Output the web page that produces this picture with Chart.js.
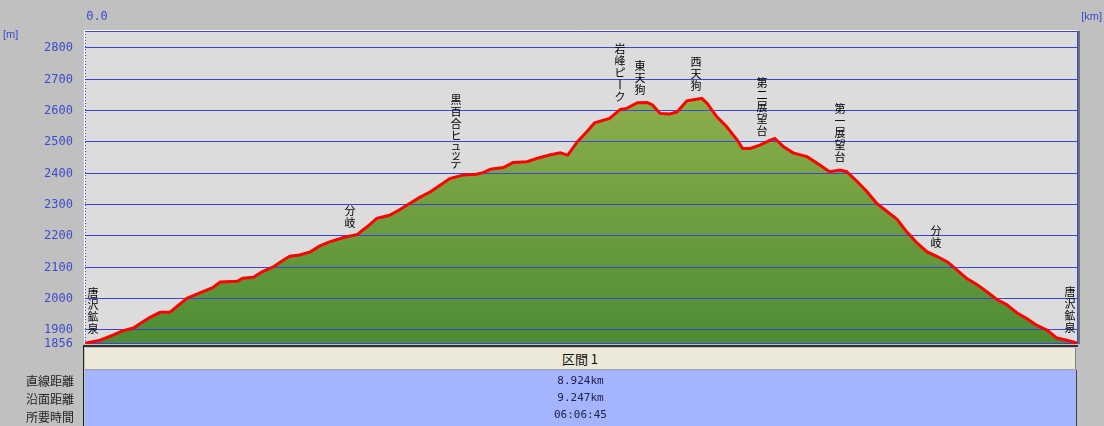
<!DOCTYPE html>
<html>
<head>
<meta charset="utf-8">
<script src="https://cdn.jsdelivr.net/npm/chart.js@4.4.0/dist/chart.umd.min.js"></script>
<style>
body { margin: 0; background: #c0c0c0; width: 1104px; height: 426px; overflow: hidden; position: relative; font-family: "Noto Sans CJK JP", sans-serif; }
#wrap { position: absolute; left: 0; top: 0; width: 1104px; height: 348px; }
.side { position: absolute; left: 0; width: 74px; text-align: right; font-size: 12px; color: #222; line-height: 17px; }
#head { position: absolute; left: 85px; top: 348px; width: 990px; height: 21px; background: #ece9d8; border-right: 1px solid #808080; border-bottom: 1px solid #a0a0a0; text-align: center; font-size: 13px; line-height: 21px; color: #111; }
#body { position: absolute; left: 85px; top: 370px; width: 991px; height: 56px; background: #a4b4ff; border-right: 1px solid #404048; }
.val { position: absolute; left: 0; width: 991px; text-align: center; font-family: "DejaVu Sans Mono", monospace; font-size: 11px; color: #202050; line-height: 17px; }
#edge { position: absolute; left: 83px; top: 345px; width: 1px; height: 81px; background: #202020; }
#topline { position: absolute; left: 84px; top: 345px; width: 994px; height: 2px; background: #303030; }
</style>
</head>
<body>
<div id="wrap"><canvas id="profile" width="1104" height="348"></canvas></div>
<div id="topline"></div>
<div id="edge"></div>
<div id="head">区間 1</div>
<div id="body">
  <div class="val" style="top:2px">8.924km</div>
  <div class="val" style="top:19px">9.247km</div>
  <div class="val" style="top:36px">06:06:45</div>
</div>
<div class="side" style="top:372px">直線距離</div>
<div class="side" style="top:390px">沿面距離</div>
<div class="side" style="top:408px">所要時間</div>
<script>
// 距離 (km) と標高 (m)
const distKm = [0, 0.14, 0.26, 0.35, 0.45, 0.54, 0.61, 0.70, 0.79, 0.86, 0.95, 1.07, 1.19, 1.26, 1.42, 1.47, 1.57, 1.65, 1.75, 1.85,
  1.91, 2.00, 2.10, 2.19, 2.28, 2.41, 2.54, 2.59, 2.63, 2.72, 2.84, 2.94, 3.03, 3.12, 3.22, 3.31, 3.40, 3.52, 3.65, 3.71,
  3.78, 3.90, 3.99, 4.12, 4.21, 4.33, 4.43, 4.50, 4.59, 4.68, 4.75, 4.89, 4.99, 5.05, 5.15, 5.24, 5.29, 5.36, 5.45, 5.52,
  5.61, 5.70, 5.75, 5.80, 5.89, 5.98, 6.08, 6.13, 6.20, 6.29, 6.39, 6.43, 6.51, 6.60, 6.73, 6.85, 6.94, 7.04, 7.10, 7.20,
  7.29, 7.38, 7.48, 7.57, 7.66, 7.76, 7.85, 7.94, 8.04, 8.13, 8.22, 8.31, 8.41, 8.50, 8.59, 8.69, 8.78, 8.87, 8.97, 9.06,
  9.15, 9.23, 9.247];
const elevM = [1858, 1868, 1884, 1898, 1907, 1927, 1942, 1957, 1957, 1977, 2002, 2019, 2036, 2054, 2056, 2066, 2069, 2086, 2101, 2124,
  2136, 2140, 2150, 2169, 2182, 2196, 2206, 2220, 2230, 2257, 2267, 2286, 2305, 2324, 2342, 2363, 2384, 2395, 2398, 2403,
  2414, 2419, 2435, 2438, 2448, 2459, 2466, 2459, 2502, 2534, 2562, 2576, 2605, 2608, 2626, 2627, 2619, 2592, 2590, 2597,
  2632, 2637, 2640, 2624, 2581, 2550, 2507, 2480, 2480, 2491, 2507, 2512, 2486, 2466, 2454, 2427, 2406, 2411, 2406, 2374,
  2342, 2305, 2278, 2254, 2214, 2177, 2150, 2136, 2118, 2092, 2065, 2047, 2022, 1998, 1982, 1955, 1937, 1916, 1900, 1875,
  1868, 1861, 1858];
const yTicks = [1856, 1900, 2000, 2100, 2200, 2300, 2400, 2500, 2600, 2700, 2800];
const xTicks = [0];

// 地点名
const wpNames = ['唐沢鉱泉', '分岐', '黒百合ヒュッテ', '岩峰ピーク', '東天狗', '西天狗', '第二展望台', '第一展望台', '分岐', '唐沢鉱泉'];
const wpKm = [0.07, 2.47, 3.46, 4.99, 5.17, 5.70, 6.31, 7.04, 7.93, 9.18];

const pts = distKm.map((d, i) => ({x: d, y: elevM[i]}));
const BLUE = '#3a46d6';
const TICK = '#3a4ccc';
const SMALL = 'ャュョッァィゥェォ';

function elevAt(km) {
  for (let i = 1; i < distKm.length; i++) {
    if (km <= distKm[i]) {
      const t = (km - distKm[i - 1]) / (distKm[i] - distKm[i - 1]);
      return elevM[i - 1] + t * (elevM[i] - elevM[i - 1]);
    }
  }
  return elevM[elevM.length - 1];
}

const frame = {
  id: 'frame',
  beforeDraw(chart) {
    const {ctx, chartArea: a} = chart;
    ctx.save();
    ctx.fillStyle = '#dcdcdc';
    ctx.fillRect(a.left, a.top, a.right - a.left, a.bottom - a.top);
    ctx.restore();
  },
  beforeDatasetDraw(chart, args) {
    if (args.index !== 0) return;
    // 目盛線は塗りの上、折れ線の下
    const {ctx, chartArea: a, scales: {y}} = chart;
    ctx.save();
    ctx.strokeStyle = BLUE;
    ctx.lineWidth = 1;
    y.ticks.forEach(t => {
      const py = Math.round(y.getPixelForValue(t.value)) - 0.5;
      ctx.beginPath();
      ctx.moveTo(a.left, py);
      ctx.lineTo(a.right, py);
      ctx.stroke();
    });
    ctx.restore();
  },
  afterDraw(chart) {
    const {ctx, chartArea: a, scales: {x, y}} = chart;
    ctx.save();
    // 枠
    ctx.strokeStyle = '#ffffff';
    ctx.beginPath();
    ctx.moveTo(a.left - 0.5, a.bottom); ctx.lineTo(a.left - 0.5, a.top - 0.5); ctx.lineTo(a.right, a.top - 0.5);
    ctx.stroke();
    ctx.strokeStyle = BLUE;
    ctx.beginPath();
    ctx.moveTo(a.left, a.top + 0.5); ctx.lineTo(a.right + 0.5, a.top + 0.5); ctx.lineTo(a.right + 0.5, a.bottom);
    ctx.stroke();
    ctx.strokeStyle = '#707070';
    ctx.lineWidth = 2;
    ctx.beginPath();
    ctx.moveTo(a.right + 2, a.top); ctx.lineTo(a.right + 2, a.bottom);
    ctx.stroke();
    ctx.lineWidth = 1;
    ctx.strokeStyle = BLUE;
    ctx.setLineDash([1, 2]);
    ctx.beginPath();
    ctx.moveTo(a.left + 0.5, a.top); ctx.lineTo(a.left + 0.5, a.bottom);
    ctx.stroke();
    ctx.setLineDash([]);

    // 単位
    ctx.fillStyle = TICK;
    ctx.font = '11px "Liberation Sans"';
    ctx.textBaseline = 'middle';
    ctx.textAlign = 'left';
    ctx.fillText('[m]', 3, 35);
    ctx.textAlign = 'right';
    ctx.fillText('[km]', 1102, 17);

    // 地点名 (縦書き)
    ctx.fillStyle = '#000000';
    ctx.font = '11px "Noto Sans CJK JP"';
    ctx.textAlign = 'center';
    ctx.textBaseline = 'middle';
    wpNames.forEach((name, i) => {
      const chars = Array.from(name);
      const px = Math.round(x.getPixelForValue(wpKm[i]));
      let cy = y.getPixelForValue(elevAt(wpKm[i])) - 7;
      for (let k = chars.length - 1; k >= 0; k--) {
        const c = chars[k];
        const step = SMALL.includes(c) ? 8 : 12;
        cy -= step;
        if (c === 'ー') {
          ctx.fillRect(px - 0.5, cy + 1, 1, 10);
        } else {
          ctx.fillText(c, px, cy + step / 2);
        }
      }
    });
    ctx.restore();
  }
};

const ctx = document.getElementById('profile').getContext('2d');
new Chart(ctx, {
  type: 'line',
  data: {
    datasets: [{
      data: pts,
      borderColor: '#ff0000',
      borderWidth: 3,
      pointRadius: 0,
      tension: 0,
      fill: false,
      order: 1
    }, {
      data: pts,
      borderWidth: 0,
      pointRadius: 0,
      tension: 0,
      fill: 'start',
      backgroundColor: function(c) {
        const a = c.chart.chartArea;
        if (!a) return '#7aa040';
        const g = c.chart.ctx.createLinearGradient(0, a.top, 0, a.bottom);
        g.addColorStop(0, '#a0b850');
        g.addColorStop(1, '#4c8c34');
        return g;
      },
      order: 2
    }]
  },
  options: {
    responsive: false,
    animation: false,
    layout: {padding: {left: 0, right: 27, top: 0, bottom: 4}},
    plugins: {legend: {display: false}, tooltip: {enabled: false}},
    scales: {
      x: {
        type: 'linear',
        position: 'top',
        min: 0,
        max: 9.247,
        afterBuildTicks: s => { s.ticks = xTicks.map(v => ({value: v})); },
        afterFit: s => { s.height = 31; },
        grid: {display: false, drawTicks: false},
        border: {display: false},
        ticks: {
          color: TICK,
          font: {family: 'DejaVu Sans Mono', size: 12},
          padding: 7,
          labelOffset: 12,
          maxRotation: 0,
          callback: v => v.toFixed(1)
        }
      },
      y: {
        min: 1856,
        max: 2855,
        afterBuildTicks: s => { s.ticks = yTicks.map(v => ({value: v})); },
        afterFit: s => { s.width = 85; s.paddingTop = 0; s.paddingBottom = 0; },
        grid: {display: false, drawTicks: false},
        border: {display: false},
        ticks: {
          color: TICK,
          font: {family: 'DejaVu Sans Mono', size: 12},
          padding: 12,
          autoSkip: false,
          callback: v => String(v)
        }
      }
    }
  },
  plugins: [frame]
});
</script>
</body>
</html>
